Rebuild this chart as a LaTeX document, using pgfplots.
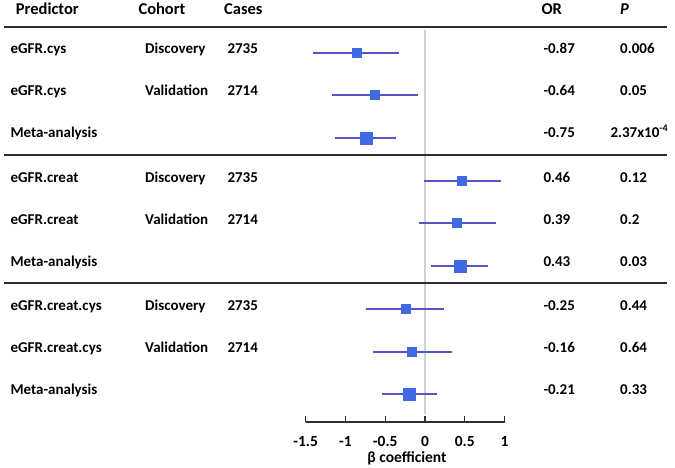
\documentclass[border=0pt]{standalone}
\usepackage{pgfplots}
\pgfplotsset{compat=1.18}
\usepackage{fontspec}
\setmainfont{Carlito}
\definecolor{sq}{RGB}{65,105,225}
\definecolor{ci}{RGB}{85,85,200}
\definecolor{sep}{RGB}{45,45,45}
\definecolor{zl}{RGB}{210,210,210}
\newcommand{\tf}{\fontsize{15}{18}\selectfont\bfseries}
\newcommand{\hf}{\fontsize{16.5}{19}\selectfont\bfseries}
\begin{document}
\begin{tikzpicture}[font=\tf]
\begin{axis}[
  scale only axis, width=199pt, height=395pt,
  xmin=-1.5, xmax=1, ymin=-422, ymax=-27,
  clip=false,
  axis x line=bottom, axis y line=none,
  axis line style={-, sep, line width=1.3pt},
  xtick={-1.5,-1,-0.5,0,0.5,1},
  xticklabels={-1.5,-1,-0.5,0,0.5,1},
  tick align=inside, major tick length=6pt,
  xtick style={sep, line width=1.3pt},
  xticklabel style={font=\fontsize{15.5}{18}\selectfont\bfseries, anchor=base, yshift=-24pt},
]
% zero reference line
\draw[zl, line width=1.2pt] (axis cs:0,-30) -- (axis cs:0,-414);
% separators
\draw[sep, line width=1.8pt] (axis cs:-5.2889,-27) -- (axis cs:3.0402,-27);
\draw[sep, line width=1.8pt] (axis cs:-5.2889,-155) -- (axis cs:3.0402,-155);
\draw[sep, line width=1.8pt] (axis cs:-5.2889,-283) -- (axis cs:3.0402,-283);

% individual cohorts
\addplot[only marks, mark=square*, mark size=4.5pt,
  mark options={fill=sq, draw=sq, line width=0pt},
  error bars/.cd, x dir=both, x explicit, error mark=none,
  error bar style={ci, line width=1.2pt}]
  table[x=x, y=y, x error plus=ep, x error minus=em] {
  x     y     ep    em
  -0.86 -53   0.53  0.55
  -0.63 -95   0.54  0.54
  0.46  -181  0.49  0.47
  0.40  -223  0.49  0.48
  -0.24 -309  0.48  0.50
  -0.16 -352  0.50  0.49
};
% meta-analyses
\addplot[only marks, mark=square*, mark size=6pt,
  mark options={fill=sq, draw=sq, line width=0pt},
  error bars/.cd, x dir=both, x explicit, error mark=none,
  error bar style={ci, line width=1.2pt}]
  table[x=x, y=y, x error plus=ep, x error minus=em] {
  x     y     ep    em
  -0.74 -138  0.38  0.39
  0.44  -266  0.35  0.36
  -0.20 -394  0.35  0.34
};

% headers
\node[anchor=base west, font=\hf] at (axis cs:-5.1834,-14) {Predictor};
\node[anchor=base west, font=\hf] at (axis cs:-3.6432,-14) {Cohort};
\node[anchor=base west, font=\hf] at (axis cs:-2.5666,-14) {Cases};
\node[anchor=base west, font=\hf] at (axis cs:1.4196,-14) {OR};
\node[anchor=base west, font=\hf] at (axis cs:2.4083,-14) {\itshape P};

% rows
\node[anchor=base west] at (axis cs:-5.2513,-53) {eGFR.cys};
\node[anchor=base west] at (axis cs:-3.5590,-53) {Discovery};
\node[anchor=base west] at (axis cs:-2.5251,-53) {2735};
\node[anchor=base west] at (axis cs:1.4447,-53) {-0.87};
\node[anchor=base west] at (axis cs:2.4083,-53) {0.006};

\node[anchor=base west] at (axis cs:-5.2513,-95) {eGFR.cys};
\node[anchor=base west] at (axis cs:-3.5590,-95) {Validation};
\node[anchor=base west] at (axis cs:-2.5251,-95) {2714};
\node[anchor=base west] at (axis cs:1.4447,-95) {-0.64};
\node[anchor=base west] at (axis cs:2.4083,-95) {0.05};

\node[anchor=base west] at (axis cs:-5.2513,-137) {Meta-analysis};
\node[anchor=base west] at (axis cs:1.4447,-137) {-0.75};
\node[anchor=base west] at (axis cs:2.2864,-137) {2.37x10\raisebox{0.75ex}{\fontsize{10}{12}\selectfont\bfseries -4}};

\node[anchor=base west] at (axis cs:-5.2513,-182) {eGFR.creat};
\node[anchor=base west] at (axis cs:-3.5590,-182) {Discovery};
\node[anchor=base west] at (axis cs:-2.5251,-182) {2735};
\node[anchor=base west] at (axis cs:1.4447,-182) {0.46};
\node[anchor=base west] at (axis cs:2.4083,-182) {0.12};

\node[anchor=base west] at (axis cs:-5.2513,-224) {eGFR.creat};
\node[anchor=base west] at (axis cs:-3.5590,-224) {Validation};
\node[anchor=base west] at (axis cs:-2.5251,-224) {2714};
\node[anchor=base west] at (axis cs:1.4447,-224) {0.39};
\node[anchor=base west] at (axis cs:2.4083,-224) {0.2};

\node[anchor=base west] at (axis cs:-5.2513,-266) {Meta-analysis};
\node[anchor=base west] at (axis cs:1.4447,-266) {0.43};
\node[anchor=base west] at (axis cs:2.4083,-266) {0.03};

\node[anchor=base west] at (axis cs:-5.2513,-310) {eGFR.creat.cys};
\node[anchor=base west] at (axis cs:-3.5590,-310) {Discovery};
\node[anchor=base west] at (axis cs:-2.5251,-310) {2735};
\node[anchor=base west] at (axis cs:1.4447,-310) {-0.25};
\node[anchor=base west] at (axis cs:2.4083,-310) {0.44};

\node[anchor=base west] at (axis cs:-5.2513,-352) {eGFR.creat.cys};
\node[anchor=base west] at (axis cs:-3.5590,-352) {Validation};
\node[anchor=base west] at (axis cs:-2.5251,-352) {2714};
\node[anchor=base west] at (axis cs:1.4447,-352) {-0.16};
\node[anchor=base west] at (axis cs:2.4083,-352) {0.64};

\node[anchor=base west] at (axis cs:-5.2513,-394) {Meta-analysis};
\node[anchor=base west] at (axis cs:1.4447,-394) {-0.21};
\node[anchor=base west] at (axis cs:2.4083,-394) {0.33};

% x label
\node[anchor=base, font=\fontsize{15.5}{18}\selectfont\bfseries] at (axis cs:-0.2261,-462) {β coefficient};

\coordinate (TL) at (axis cs:-5.3392,0);
\coordinate (BR) at (axis cs:3.1407,-467);
\end{axis}
\pgfresetboundingbox
\path[use as bounding box] (TL) rectangle (BR);
\end{tikzpicture}
\end{document}
